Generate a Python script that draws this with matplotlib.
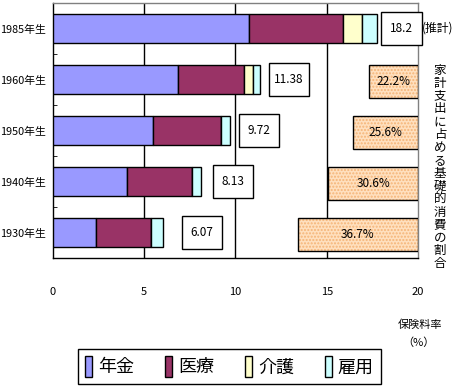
import matplotlib as mpl
mpl.use('agg')
import matplotlib.pyplot as plt
from matplotlib.patches import Rectangle
import numpy as np

plt.rcParams['font.family'] = ['Noto Sans CJK JP', 'DejaVu Sans']

# data
cohorts = ['1985年生', '1960年生', '1950年生', '1940年生', '1930年生']
pension = [10.74, 6.85, 5.48, 4.05, 2.36]
medical = [5.15, 3.62, 3.73, 3.57, 3.03]
care = [1.04, 0.49, 0.0, 0.0, 0.0]
employ = [0.80, 0.38, 0.49, 0.49, 0.64]
totals = ['18.2', '11.38', '9.72', '8.13', '6.07']
shares = [None, '22.2%', '25.6%', '30.6%', '36.7%']

series_names = ['年金', '医療', '介護', '雇用']
series_colors = ['#9999FF', '#993366', '#FFFFCC', '#CCFFFF']

# layout of the annotation boxes (data units)
total_box_left = [18.0, 11.82, 10.17, 8.75, 7.05]
total_box_w = 2.22
share_box_left = [None, 17.33, 16.45, 15.08, 13.4]
box_h = 0.64

fig = plt.figure(figsize=(4.62, 3.88), dpi=100)
ax = fig.add_axes([53/462, 1-258/388, 365/462, 255/388])

y = np.arange(len(cohorts))
left = np.zeros(len(cohorts))
handles = []
for vals, col, name in zip([pension, medical, care, employ], series_colors, series_names):
  vals = np.array(vals)
  b = ax.barh(y, vals, left=left, height=0.57, color=col, edgecolor='black',
              linewidth=1.0, label=name, zorder=3)
  handles.append(b)
  left = left + vals

# total rate boxes
for i, t in enumerate(totals):
  ax.add_patch(Rectangle((total_box_left[i], i-box_h/2), total_box_w, box_h,
                         facecolor='white', edgecolor='black', lw=1.0,
                         zorder=5, clip_on=False))
  ax.text(total_box_left[i]+total_box_w/2, i, t, ha='center', va='center',
          fontsize=8.5, zorder=6)
ax.text(20.2, 0, '(推計)', ha='left', va='center', fontsize=8.5, clip_on=False)

# share of basic consumption boxes
for i, s in enumerate(shares):
  if s is None:
    continue
  x0 = share_box_left[i]
  w = 20 - x0
  ax.add_patch(Rectangle((x0, i-box_h/2+0.04), w, box_h, facecolor='#FFE0BF',
                         edgecolor='#F5B477', hatch='.....', lw=0, zorder=4))
  ax.add_patch(Rectangle((x0, i-box_h/2+0.04), w, box_h, facecolor='none',
                         edgecolor='black', lw=1.0, zorder=5))
  ax.text(x0+w/2, i+0.04, s, ha='center', va='center', fontsize=8.5, zorder=6)

ax.set_xlim(0, 20)
ax.set_ylim(4.5, -0.5)
ax.set_xticks([0, 5, 10, 15, 20])
ax.set_yticks(y)
ax.set_yticklabels(cohorts, fontsize=7.8)
ax.set_yticks(np.arange(0.5, 4.5, 1), minor=True)
ax.tick_params(axis='y', which='major', length=0, pad=5)
ax.tick_params(axis='y', which='minor', direction='in', length=3, color='black')
ax.tick_params(axis='x', length=0, pad=21, labelsize=8)
for xv in [5, 10, 15]:
  ax.axvline(xv, color='black', lw=1.0, zorder=1)

ax.spines['left'].set_color('black')
ax.spines['bottom'].set_color('black')
ax.spines['top'].set_color('#808080')
ax.spines['right'].set_color('#808080')
for s in ax.spines.values():
  s.set_linewidth(1.0)

# vertical caption on the right
cap = '家計支出に占める基礎的消費の割合'
fig.text(440/462, 1-167/388, '\n'.join(cap), ha='center', va='center',
         fontsize=9, linespacing=0.99)

fig.text(420/462, 1-325/388, '保険料率', ha='center', va='center', fontsize=8)
fig.text(418/462, 1-343/388, '（%）', ha='center', va='center', fontsize=8)

leg = fig.legend(handles=handles, labels=series_names, ncol=4,
                 loc='lower left', mode='expand',
                 bbox_to_anchor=(78/462, 1-384/388, 303/462, 42/388),
                 fontsize=13, handlelength=0.4, handleheight=1.4,
                 handletextpad=0.3, columnspacing=1.0, borderaxespad=0,
                 fancybox=False, edgecolor='black', framealpha=1)
leg.get_frame().set_linewidth(1.0)

fig.savefig('out.png', dpi=100)
